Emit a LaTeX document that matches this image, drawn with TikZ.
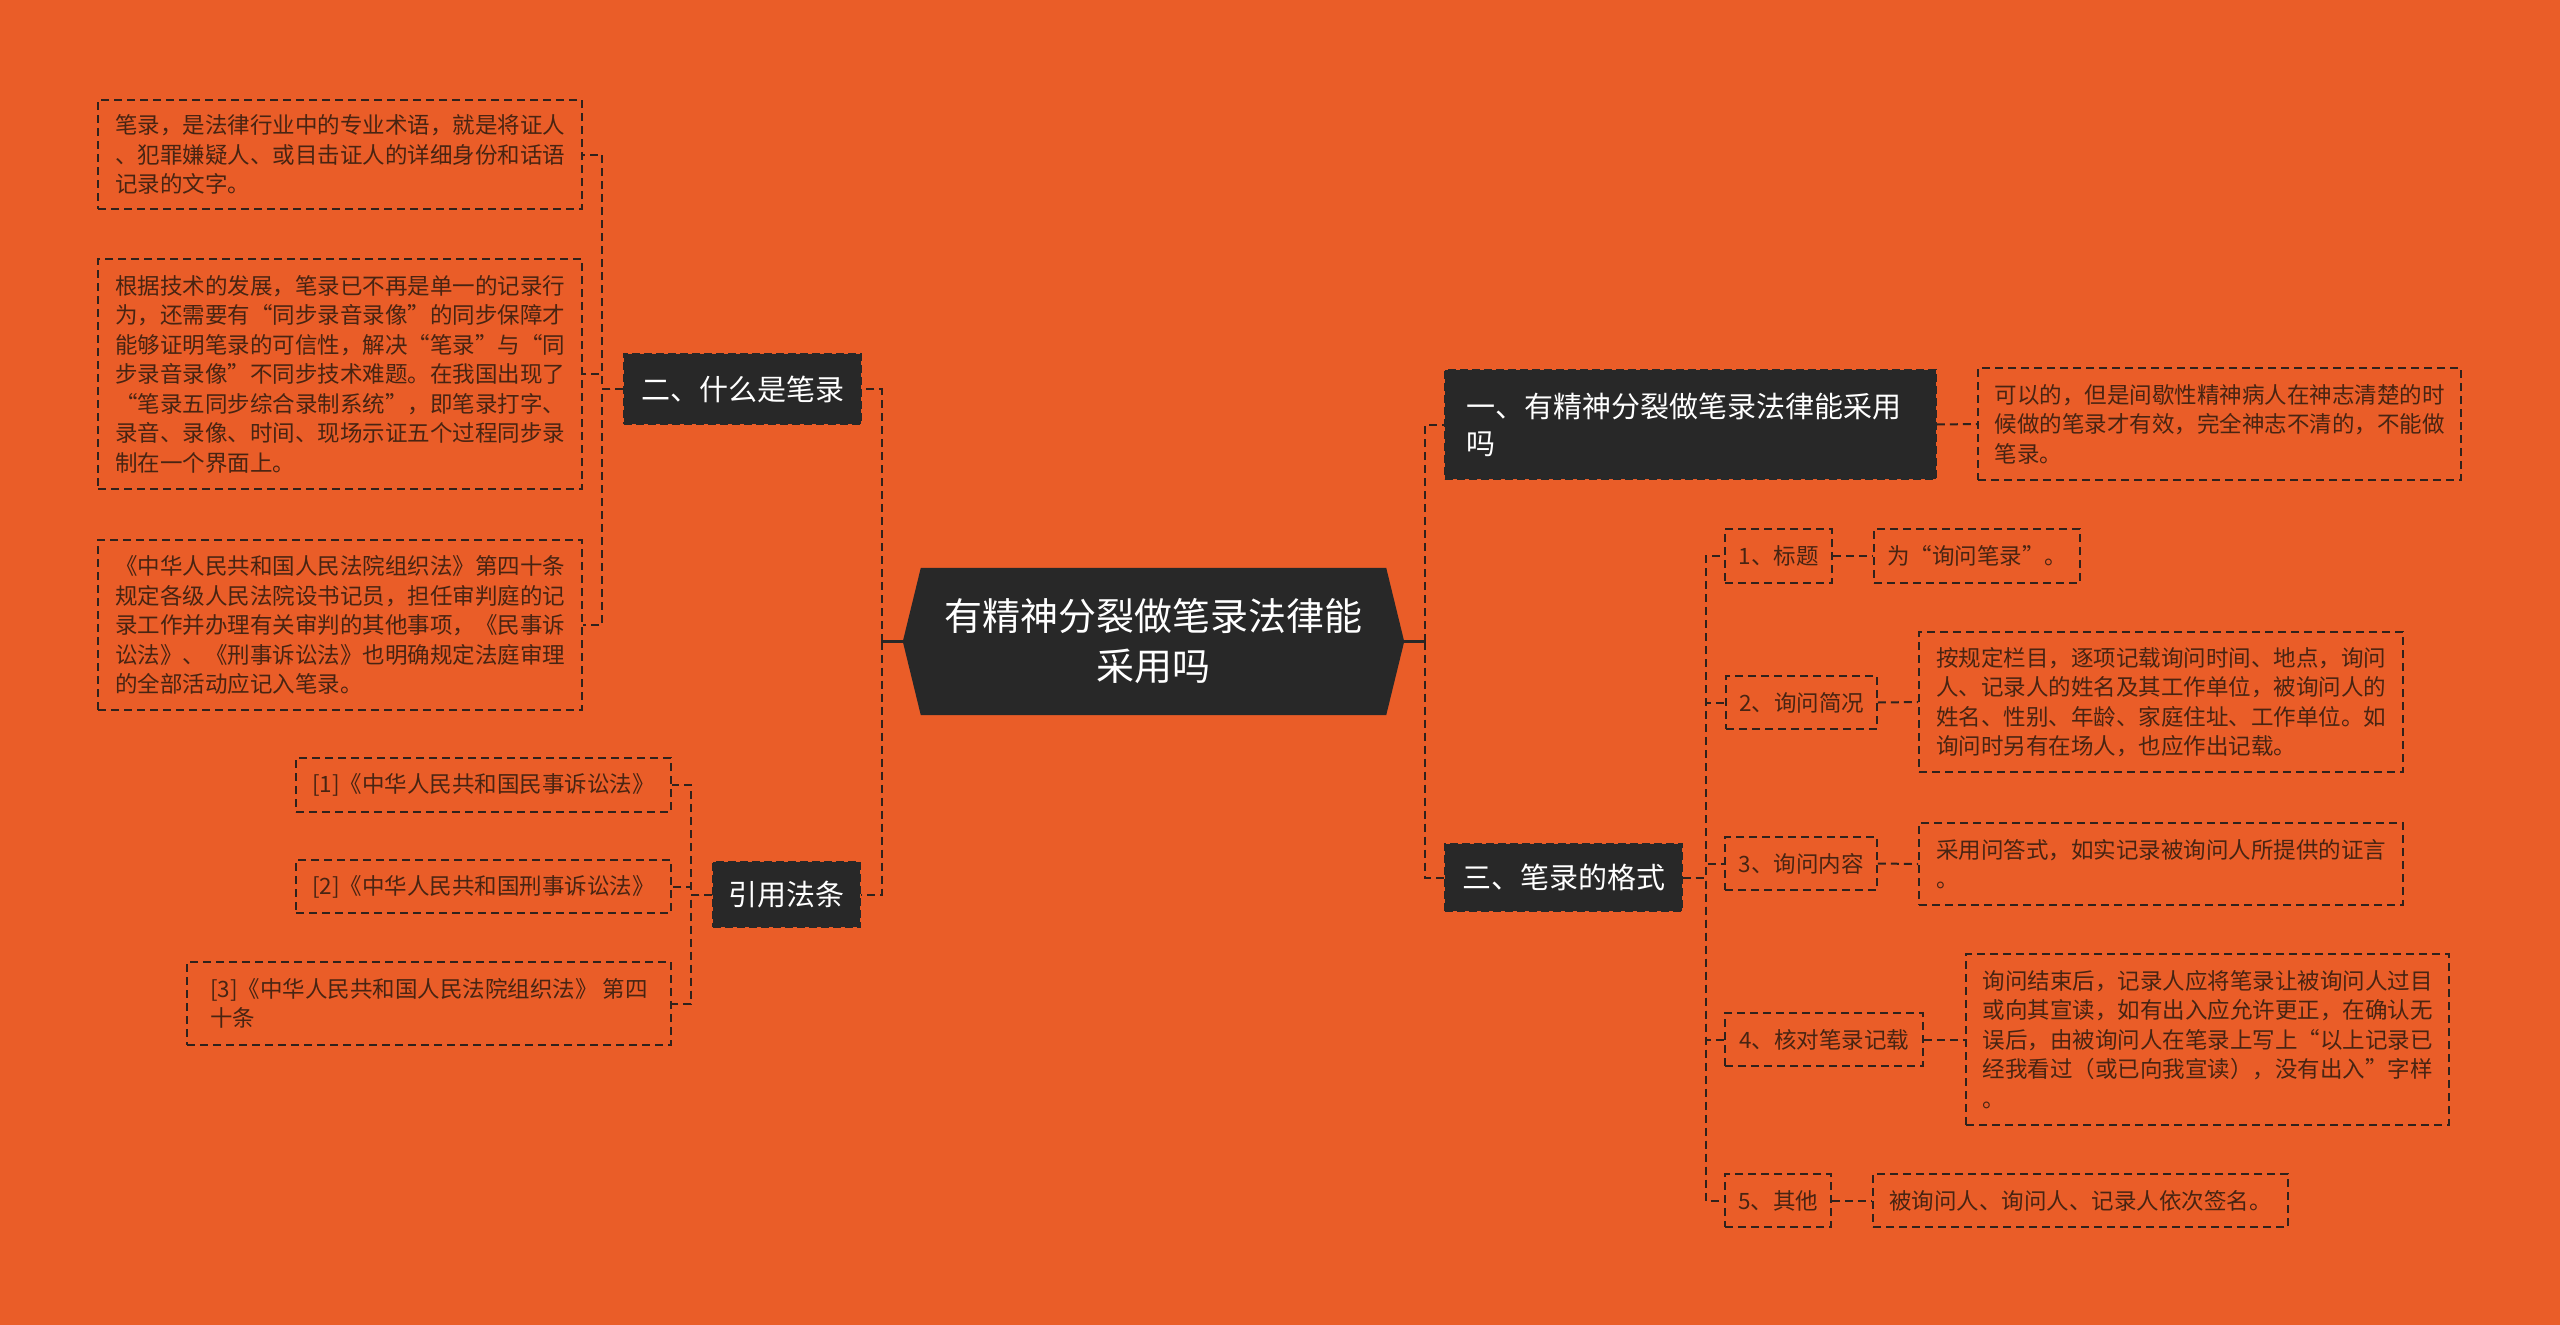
\documentclass[tikz,border=0pt]{standalone}
\usepackage{fontspec}
\newfontfamily\cjk{Noto Sans CJK SC}
\usetikzlibrary{backgrounds}
\definecolor{bg}{RGB}{234,93,40}
\definecolor{dark}{RGB}{40,40,40}
\definecolor{ink}{RGB}{72,36,18}
\definecolor{wire}{RGB}{48,34,28}
\begin{document}
\begin{tikzpicture}[x=1pt,y=-1pt,
  leaf/.style={draw=wire, dash pattern=on 8pt off 5pt, line width=1.6pt, text=ink,
    font=\cjk\fontsize{22.5}{29.5}\selectfont, align=left, inner sep=0pt},
  topic/.style={fill=dark, draw=dark, dash pattern=on 8pt off 4pt, line width=1.5pt, text=white,
    font=\cjk\fontsize{29}{37}\selectfont, align=left, inner sep=0pt},
  conn/.style={draw=wire, line width=2pt, dash pattern=on 8pt off 5pt},
  trunk/.style={draw=dark, line width=3pt}]
\useasboundingbox (0,0) rectangle (2560,1325);

% central topic
\node[text=white, font=\cjk\fontsize{38}{50}\selectfont, align=center, inner sep=0pt,
  minimum width=501pt, minimum height=147pt] (c) at (1153.5,641.5) {有精神分裂做笔录法律能\\采用吗};

% left branch: 二
\node[topic, minimum width=237pt, minimum height=70pt] (two) at (742.5,389) {二、什么是笔录};
\node[leaf, minimum width=484pt, minimum height=109pt] (l1) at (340,154.5) {笔录，是法律行业中的专业术语，就是将证人\\、犯罪嫌疑人、或目击证人的详细身份和话语\\记录的文字。};
\node[leaf, minimum width=484pt, minimum height=230pt] (l2) at (340,374) {根据技术的发展，笔录已不再是单一的记录行\\为，还需要有“同步录音录像”的同步保障才\\能够证明笔录的可信性，解决“笔录”与“同\\步录音录像”不同步技术难题。在我国出现了\\“笔录五同步综合录制系统”，即笔录打字、\\录音、录像、时间、现场示证五个过程同步录\\制在一个界面上。};
\node[leaf, minimum width=484pt, minimum height=170pt] (l3) at (340,625) {《中华人民共和国人民法院组织法》第四十条\\规定各级人民法院设书记员，担任审判庭的记\\录工作并办理有关审判的其他事项，《民事诉\\讼法》、《刑事诉讼法》也明确规定法庭审理\\的全部活动应记入笔录。};

% left branch: 引用法条
\node[topic, minimum width=147pt, minimum height=65pt] (cite) at (786.5,894.5) {引用法条};
\node[leaf, minimum width=375pt, minimum height=54pt] (c1) at (483.5,785) {[1]《中华人民共和国民事诉讼法》};
\node[leaf, minimum width=375pt, minimum height=53pt] (c2) at (483.5,886.5) {[2]《中华人民共和国刑事诉讼法》};
\node[leaf, minimum width=484pt, minimum height=83pt] (c3) at (429,1003.5) {[3]《中华人民共和国人民法院组织法》 第四\\十条};

% right branch: 一
\node[topic, minimum width=491pt, minimum height=109pt] (one) at (1690.5,424.5) {一、有精神分裂做笔录法律能采用\\吗\hspace*{420pt}};
\node[leaf, minimum width=483pt, minimum height=112pt] (r1) at (2219.5,424) {可以的，但是间歇性精神病人在神志清楚的时\\候做的笔录才有效，完全神志不清的，不能做\\笔录。};

% right branch: 三
\node[topic, minimum width=237pt, minimum height=67pt] (three) at (1563.5,877.5) {三、笔录的格式};
\node[leaf, minimum width=107pt, minimum height=54pt] (s1) at (1778.5,556) {1、标题};
\node[leaf, minimum width=206pt, minimum height=54pt] (t1) at (1977,556) {为“询问笔录”。};
\node[leaf, minimum width=151pt, minimum height=53pt] (s2) at (1801.5,702.5) {2、询问简况};
\node[leaf, minimum width=484pt, minimum height=140pt] (t2) at (2161,702) {按规定栏目，逐项记载询问时间、地点，询问\\人、记录人的姓名及其工作单位，被询问人的\\姓名、性别、年龄、家庭住址、工作单位。如\\询问时另有在场人，也应作出记载。};
\node[leaf, minimum width=152pt, minimum height=53pt] (s3) at (1801,863.5) {3、询问内容};
\node[leaf, minimum width=484pt, minimum height=82pt] (t3) at (2161,864) {采用问答式，如实记录被询问人所提供的证言\\。\hspace*{420pt}};
\node[leaf, minimum width=198pt, minimum height=53pt] (s4) at (1824,1039.5) {4、核对笔录记载};
\node[leaf, minimum width=483pt, minimum height=171pt] (t4) at (2207.5,1039.5) {询问结束后，记录人应将笔录让被询问人过目\\或向其宣读，如有出入应允许更正，在确认无\\误后，由被询问人在笔录上写上“以上记录已\\经我看过（或已向我宣读），没有出入”字样\\。};
\node[leaf, minimum width=106pt, minimum height=53pt] (s5) at (1778,1200.5) {5、其他};
\node[leaf, minimum width=415pt, minimum height=53pt] (t5) at (2080.5,1200.5) {被询问人、询问人、记录人依次签名。};

% connectors
\draw[trunk] (c.west) -- ++(-21,0) coordinate (cl);
\draw[trunk] (c.east) -- ++(21,0) coordinate (cr);
\draw[conn] (cl) |- (two.east);
\draw[conn] (cl) |- (cite.east);
\draw[conn] (cr) |- (one.west);
\draw[conn] (cr) |- (three.west);

\draw[conn] (two.west) -- ++(-21,0) |- (l1.east);
\draw[conn] (two.west) -- ++(-21,0) |- (l2.east);
\draw[conn] (two.west) -- ++(-21,0) |- (l3.east);

\draw[conn] (cite.west) -- ++(-21,0) |- (c1.east);
\draw[conn] (cite.west) -- ++(-21,0) |- (c2.east);
\draw[conn] (cite.west) -- ++(-21,0) |- (c3.east);

\draw[conn] (one.east) -- (r1.west);

\draw[conn] (three.east) -- ++(23,0) |- (s1.west);
\draw[conn] (three.east) -- ++(23,0) |- (s2.west);
\draw[conn] (three.east) -- ++(23,0) |- (s3.west);
\draw[conn] (three.east) -- ++(23,0) |- (s4.west);
\draw[conn] (three.east) -- ++(23,0) |- (s5.west);
\draw[conn] (s1.east) -- (t1.west);
\draw[conn] (s2.east) -- (t2.west);
\draw[conn] (s3.east) -- (t3.west);
\draw[conn] (s4.east) -- (t4.west);
\draw[conn] (s5.east) -- (t5.west);

\begin{scope}[on background layer]
\fill[bg] (0,0) rectangle (2560,1325);
\fill[dark] ([xshift=18pt]c.north west) -- ([xshift=-18pt]c.north east) -- (c.east)
  -- ([xshift=-18pt]c.south east) -- ([xshift=18pt]c.south west) -- (c.west) -- cycle;
\end{scope}
\end{tikzpicture}
\end{document}
